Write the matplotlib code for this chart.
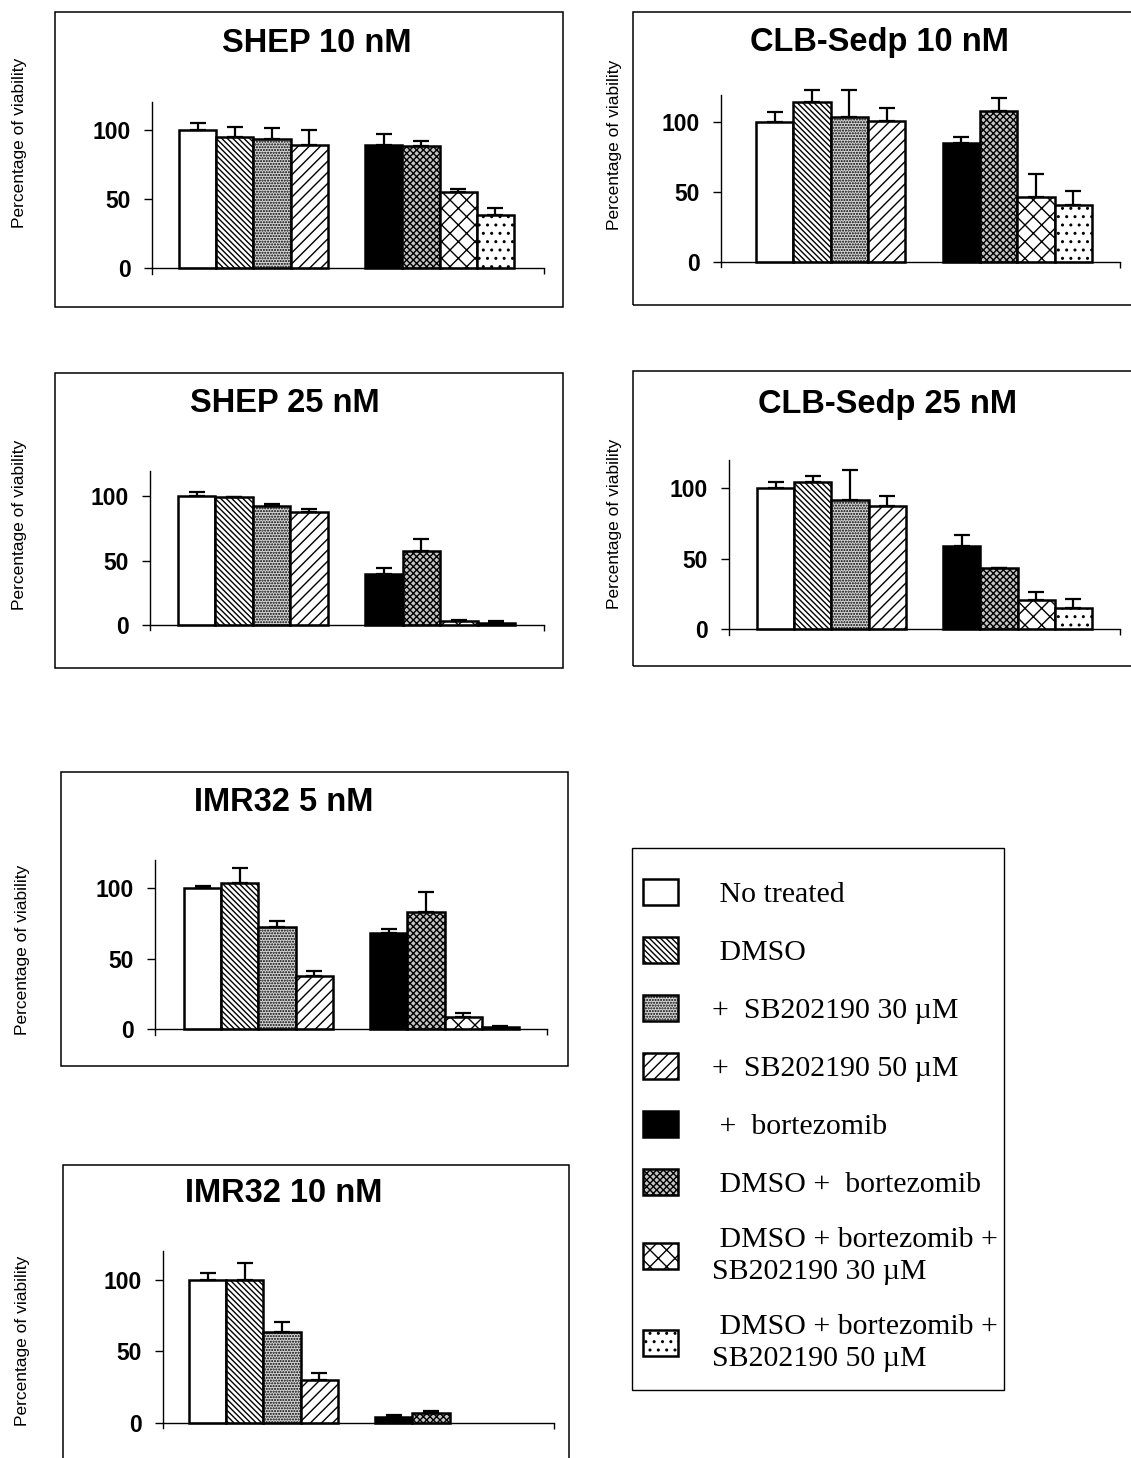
import numpy as np
import matplotlib
matplotlib.use('Agg')
import matplotlib.pyplot as plt
from matplotlib.patches import Rectangle

# Treatments (legend order)
treatments = [' No treated', ' DMSO', '+  SB202190 30 \u00b5M', '+  SB202190 50 \u00b5M',
              ' +  bortezomib', ' DMSO +  bortezomib',
              ' DMSO + bortezomib +\nSB202190 30 \u00b5M',
              ' DMSO + bortezomib +\nSB202190 50 \u00b5M']

panel_titles = ['SHEP 10 nM', 'CLB-Sedp 10 nM', 'SHEP 25 nM',
                'CLB-Sedp 25 nM', 'IMR32 5 nM', 'IMR32 10 nM']

# Percentage of viability (mean) and error (upper bar only)
shep10_mean = [100, 95.2, 93.2, 89.1, 89.1, 88.4, 55.0, 38.3]
shep10_err = [5.3, 7.2, 8.5, 10.9, 8.0, 3.9, 2.4, 5.3]
clb10_mean = [100, 114.4, 103.6, 101.2, 85.4, 108.4, 46.4, 40.7]
clb10_err = [7.2, 8.9, 19.7, 8.8, 4.1, 9.3, 16.5, 10.0]
shep25_mean = [100, 99.2, 92.2, 87.8, 39.6, 57.8, 2.8, 1.6]
shep25_err = [3.4, 0.5, 2.1, 2.6, 4.4, 9.0, 1.1, 1.2]
clb25_mean = [100, 104.3, 91.5, 87.5, 59.3, 43.0, 20.3, 14.9]
clb25_err = [4.3, 4.7, 21.5, 7.3, 7.6, 0.7, 5.9, 6.1]
imr5_mean = [100, 103.5, 72.6, 37.4, 67.8, 82.7, 8.7, 1.7]
imr5_err = [1.4, 10.7, 4.2, 3.7, 3.4, 14.2, 2.9, 0.2]
imr10_mean = [100, 100, 63.8, 29.9, 4.2, 7.0, np.nan, np.nan]
imr10_err = [4.7, 11.7, 6.5, 4.7, 1.2, 1.4, np.nan, np.nan]

means = [shep10_mean, clb10_mean, shep25_mean, clb25_mean, imr5_mean, imr10_mean]
errs = [shep10_err, clb10_err, shep25_err, clb25_err, imr5_err, imr10_err]

yticks = [0, 50, 100]
xpos = [0, 1, 2, 3, 5, 6, 7, 8]

# bar styles
faces = ['white', 'white', '#d4d4d4', 'white', 'black', '#c4c4c4', 'white', 'white']
hatches = [None, '\\' * 6, '......', '///', None, 'xxxxx', 'xx', '..']

plt.rcParams['hatch.linewidth'] = 1.0

W, H = 1131, 1458
fig = plt.figure(figsize=(W / 100, H / 100), dpi=100)

def fx(px):
    return px / W

def fy(py):
    return 1 - py / H

# layout in pixels: frame box, y-axis x, x-axis end, y of zero, px per unit,
# bar span (left of first bar, right of last bar), title and ylabel centres
layouts = [
    dict(frame=(55, 12, 563, 307), left=152, right=544, y0=268, ppu=1.38,
         span=(179, 514), title=(317, 43), ylab=(20, 143)),
    dict(frame=(633, 12, 1145, 305), left=721, right=1120, y0=261.7, ppu=1.393,
         span=(756, 1092), title=(879, 43), ylab=(614, 145)),
    dict(frame=(55, 373, 563, 668), left=150, right=544, y0=625, ppu=1.287,
         span=(178, 515), title=(285, 403), ylab=(20, 525)),
    dict(frame=(633, 371, 1145, 666), left=729, right=1120, y0=629, ppu=1.407,
         span=(757, 1092), title=(887, 404), ylab=(614, 524)),
    dict(frame=(61, 772, 568, 1066), left=155, right=547, y0=1029, ppu=1.41,
         span=(184, 519), title=(284, 803), ylab=(22, 950)),
    dict(frame=(63, 1165, 569, 1480), left=163, right=554, y0=1422.7, ppu=1.427,
         span=(189, 524), title=(284, 1194), ylab=(22, 1341)),
]

ylow = -4
axes = []
for k, lay in enumerate(layouts):
    x0, y0f, x1, y1f = lay['frame']
    fig.add_artist(Rectangle((fx(x0), fy(y1f)), fx(x1) - fx(x0), fy(y0f) - fy(y1f),
                             transform=fig.transFigure, fill=False,
                             edgecolor='black', linewidth=1.1))

    top_px = lay['y0'] - 120 * lay['ppu']
    bot_px = lay['y0'] - ylow * lay['ppu']
    ax = fig.add_axes([fx(lay['left']), fy(bot_px),
                       fx(lay['right']) - fx(lay['left']), fy(top_px) - fy(bot_px)])
    axes.append(ax)

    u = (lay['span'][1] - lay['span'][0]) / 9.0
    xl = -0.5 - (lay['span'][0] - lay['left']) / u
    xr = 8.5 + (lay['right'] - lay['span'][1]) / u

    for i in range(8):
        ax.bar(xpos[i], means[k][i], width=1, facecolor=faces[i], hatch=hatches[i],
               edgecolor='black', linewidth=1.8, label=treatments[i], zorder=2)
        ax.errorbar(xpos[i], means[k][i], yerr=[[0], [errs[k][i]]], fmt='none',
                    ecolor='black', elinewidth=1.6, capsize=6, capthick=1.6,
                    zorder=3, clip_on=False)

    ax.set_xlim(xl, xr)
    ax.set_ylim(ylow, 120)
    ax.spines['top'].set_visible(False)
    ax.spines['right'].set_visible(False)
    ax.spines['bottom'].set_position(('data', 0))
    ax.spines['left'].set_linewidth(1.0)
    ax.spines['bottom'].set_linewidth(1.0)
    ax.set_yticks(yticks)
    ax.set_yticklabels([str(t) for t in yticks], fontfamily='Liberation Sans',
                       fontweight='bold', fontsize=16.5)
    ax.set_xticks([xr])
    ax.set_xticklabels([''])
    ax.tick_params(axis='y', length=6, width=1.0, pad=9)
    ax.tick_params(axis='x', length=4, width=1.0)
    ax.patch.set_visible(False)

    fig.text(fx(lay['title'][0]), fy(lay['title'][1]), panel_titles[k],
             ha='center', va='center', fontfamily='Liberation Sans',
             fontweight='bold', fontsize=23.5)
    fig.text(fx(lay['ylab'][0]), fy(lay['ylab'][1]), 'Percentage of viability',
             rotation=90, ha='center', va='center', fontfamily='Liberation Sans',
             fontsize=12.5)

# legend box drawn as its own frame
fig.add_artist(Rectangle((fx(632), fy(1390)), fx(1004) - fx(632), fy(848) - fy(1390),
                         transform=fig.transFigure, fill=False,
                         edgecolor='black', linewidth=1.0))

handles, labels = axes[0].get_legend_handles_labels()
fs = 21.5
leg = fig.legend(handles, labels, loc='upper left',
                 bbox_to_anchor=(fx(643), fy(879)), bbox_transform=fig.transFigure,
                 borderaxespad=0, borderpad=0, prop=dict(family='Liberation Serif', size=fs),
                 frameon=False, handlelength=1.17, handleheight=0.94,
                 handletextpad=1.14, labelspacing=0.97)
for t in leg.get_texts():
    t.set_linespacing(1.3)

fig.savefig('out.png', dpi=100, facecolor='white')
